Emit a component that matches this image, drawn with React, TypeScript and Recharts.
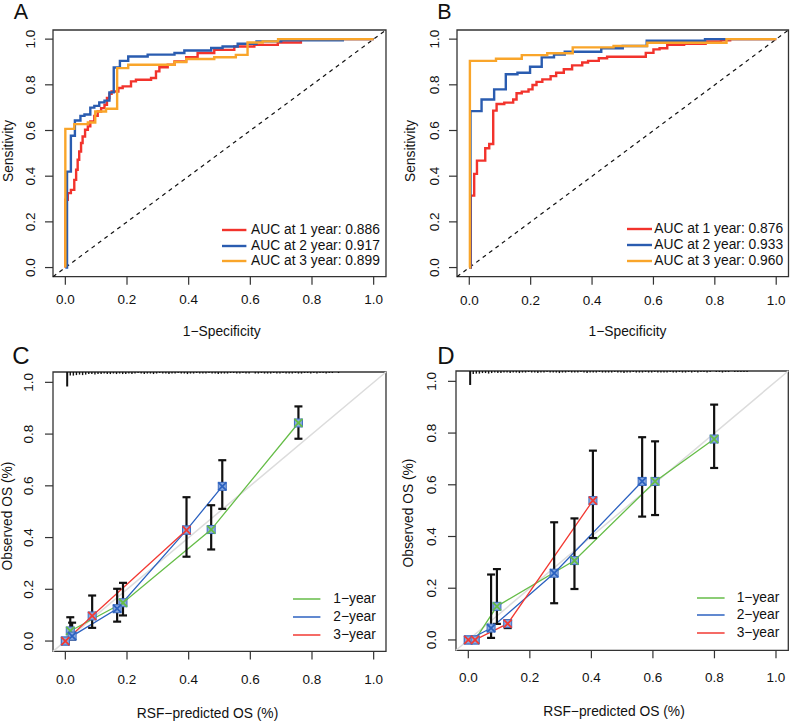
import React from 'react'
import {
  ComposedChart,
  Line,
  Scatter,
  ErrorBar,
  XAxis,
  YAxis,
  ReferenceLine,
  ReferenceArea,
} from 'recharts'

const FONT = '"Liberation Sans", Arial, Helvetica, sans-serif'
const TICKS = [0, 0.2, 0.4, 0.6, 0.8, 1]
const DOMAIN: [number, number] = [-0.04, 1.04]

// ROC curves (1-specificity, sensitivity), training cohort
const rocTrain1y = [[0,0],[0,0.297],[0.008,0.326],[0.018,0.34],[0.029,0.384],[0.035,0.428],[0.04,0.472],[0.045,0.508],[0.051,0.545],[0.056,0.574],[0.064,0.603],[0.073,0.618],[0.081,0.64],[0.094,0.664],[0.105,0.683],[0.116,0.698],[0.127,0.713],[0.135,0.742],[0.143,0.761],[0.15,0.771],[0.172,0.786],[0.186,0.793],[0.213,0.815],[0.229,0.822],[0.278,0.83],[0.294,0.859],[0.305,0.877],[0.332,0.888],[0.354,0.902],[0.392,0.921],[0.429,0.939],[0.483,0.953],[0.548,0.968],[0.613,0.975],[0.689,0.985],[0.764,0.997],[0.82,1],[1,1]]
const rocTrain2y = [[0,0],[0.0055,0.42],[0.018,0.577],[0.031,0.644],[0.049,0.664],[0.062,0.67],[0.081,0.7],[0.094,0.708],[0.11,0.723],[0.127,0.731],[0.143,0.767],[0.157,0.876],[0.177,0.905],[0.204,0.924],[0.267,0.932],[0.354,0.939],[0.386,0.95],[0.473,0.961],[0.51,0.968],[0.559,0.98],[0.62,0.99],[0.7,0.995],[0.9,1],[1,1]]
const rocTrain3y = [[0,0],[0,0.607],[0.029,0.628],[0.073,0.635],[0.097,0.683],[0.132,0.695],[0.168,0.873],[0.204,0.888],[0.354,0.9],[0.392,0.913],[0.483,0.921],[0.553,0.931],[0.591,0.985],[0.64,0.99],[0.69,1],[1,1]]

// ROC curves, validation cohort
const rocValid1y = [[0,0],[0.005,0.315],[0.016,0.41],[0.025,0.468],[0.052,0.522],[0.065,0.541],[0.078,0.687],[0.089,0.716],[0.114,0.722],[0.143,0.736],[0.154,0.763],[0.171,0.77],[0.193,0.78],[0.206,0.799],[0.219,0.813],[0.238,0.824],[0.265,0.838],[0.283,0.853],[0.308,0.868],[0.335,0.885],[0.368,0.898],[0.387,0.905],[0.422,0.916],[0.449,0.923],[0.575,0.94],[0.6,0.955],[0.62,0.96],[0.645,0.975],[0.7,0.98],[0.77,0.99],[0.82,0.995],[0.85,1],[1,1]]
const rocValid2y = [[0,0],[0.004,0.685],[0.04,0.736],[0.081,0.78],[0.119,0.846],[0.157,0.853],[0.198,0.879],[0.236,0.92],[0.276,0.933],[0.311,0.945],[0.43,0.96],[0.5,0.97],[0.578,0.993],[0.768,1],[1,1]]
const rocValid3y = [[0,0],[0.002,0.905],[0.087,0.914],[0.171,0.93],[0.254,0.938],[0.337,0.964],[0.47,0.97],[0.58,0.984],[0.838,1],[1,1]]

const aucTrain = ['0.886', '0.917', '0.899']
const aucValid = ['0.876', '0.933', '0.960']
const rocColors = ['#f2332c', '#2a5cb0', '#f9a52a']
const years = ['1', '2', '3']

// calibration: predicted vs observed OS
const calTrain1y = [[0.016,0.039],[0.187,0.148],[0.473,0.431],[0.756,0.843]]
const calTrain2y = [[0,0],[0.022,0.019],[0.168,0.125],[0.393,0.429],[0.509,0.598]]
const calTrain3y = [[0,0],[0.087,0.097],[0.393,0.429]]
// x, observed, lower, upper
const calTrainCI = [[0.016,0.039,0.012,0.092],[0.022,0.019,0.006,0.071],[0.087,0.097,0.051,0.176],[0.168,0.125,0.075,0.202],[0.187,0.148,0.099,0.225],[0.393,0.429,0.326,0.556],[0.473,0.431,0.354,0.525],[0.509,0.598,0.511,0.699],[0.756,0.843,0.782,0.907]]

const calValid1y = [[0.022,0],[0.093,0.13],[0.345,0.307],[0.607,0.613],[0.799,0.777]]
const calValid2y = [[0,0],[0.074,0.046],[0.279,0.258],[0.565,0.613]]
const calValid3y = [[0,0],[0.022,0],[0.128,0.063],[0.405,0.539]]
const calValidCI = [[0.074,0.046,0.008,0.253],[0.093,0.13,0.062,0.274],[0.128,0.063,0.046,0.075],[0.279,0.258,0.142,0.455],[0.345,0.307,0.197,0.47],[0.405,0.539,0.394,0.732],[0.565,0.613,0.477,0.784],[0.607,0.613,0.483,0.768],[0.799,0.777,0.665,0.91]]

const calColors = ['#66bd48', '#2c62c0', '#f23a33']
const calLabels = ['1\u2212year', '2\u2212year', '3\u2212year']

// spike histogram of predicted risk, 0.01 wide bins from 0
const RUG_UNIT = 0.002
const rugTrain = [28,7,7,6,5,6,5,4,4,5,4,4,3,4,4,3,4,3,4,4,3,4,3,2,3,4,3,3,4,3,2,3,3,4,3,3,2,3,3,4,3,3,2,3,3,3,2,3,3,4,3,3,3,2,2,3,3,2,3,3,0,3,3,2,3,3,3,2,3,3,2,3,3,3,2,3,3,2,2,3,2,3,2,2,3,2,2,0,2]
const rugValid = [27,6,5,5,4,4,5,4,3,4,4,3,3,4,3,3,4,3,3,2,3,3,4,3,3,2,3,3,3,4,3,3,2,3,3,3,2,3,4,3,3,3,2,3,3,3,3,2,3,3,4,3,3,2,3,3,3,2,3,3,2,3,3,3,3,2,3,3,2,3,3,2,3,2,3,2,2,3,2,0,2,2,3,2,2,0,2,2,2,2,2]

const toPts = (a: number[][]) => a.map(([x, y]) => ({ x, y }))
const toCI = (a: number[][]) => a.map(([x, y, lo, hi]) => ({ x, y, err: [y - lo, hi - y] }))

type Box = { l: number; r: number; t: number; b: number }

const PAD_L = 60
const PAD_T = 10
const PAD_R = 10
const PAD_B = 50
const TICK = 8

const xTick = (gap: number) => (p: any) => (
  <text x={p.x} y={p.y + gap} textAnchor="middle" dominantBaseline="central"
    fontSize={13.5} fontFamily={FONT} fill="#111">
    {Number(p.payload.value).toFixed(1)}
  </text>
)

const yTick = (gap: number) => (p: any) => {
  const cx = p.x - gap
  return (
    <text x={cx} y={p.y} transform={`rotate(-90 ${cx} ${p.y})`} textAnchor="middle"
      dominantBaseline="central" fontSize={13.5} fontFamily={FONT} fill="#111">
      {Number(p.payload.value).toFixed(1)}
    </text>
  )
}

function Panel({ box, xGap, yGap, children }: { box: Box; xGap: number; yGap: number; children: React.ReactNode }) {
  return (
    <div style={{ position: 'absolute', left: box.l - PAD_L, top: box.t - PAD_T }}>
      <ComposedChart
        width={box.r - box.l + PAD_L + PAD_R}
        height={box.b - box.t + PAD_T + PAD_B}
        margin={{ top: PAD_T, right: PAD_R, bottom: 0, left: 0 }}
      >
        <XAxis type="number" dataKey="x" domain={DOMAIN} ticks={TICKS} allowDataOverflow interval={0}
          axisLine={false} tickSize={TICK} tickMargin={0} tickLine={{ stroke: '#333', strokeWidth: 1.2 }}
          height={PAD_B} tick={xTick(xGap - TICK)} />
        <YAxis type="number" dataKey="y" domain={DOMAIN} ticks={TICKS} allowDataOverflow interval={0}
          axisLine={false} tickSize={TICK} tickMargin={0} tickLine={{ stroke: '#333', strokeWidth: 1.2 }}
          width={PAD_L} tick={yTick(yGap - TICK)} />
        {children}
        <ReferenceArea x1={-0.04} x2={1.04} y1={-0.04} y2={1.04} fill="none" fillOpacity={0}
          stroke="#333" strokeWidth={1.3} />
      </ComposedChart>
    </div>
  )
}

function Txt({ x, y, size = 13.8, rotate = false, children }: { x: number; y: number; size?: number; rotate?: boolean; children: React.ReactNode }) {
  return (
    <div style={{
      position: 'absolute', left: x, top: y, fontSize: size, fontFamily: FONT, lineHeight: 1,
      whiteSpace: 'nowrap', color: '#111',
      transform: `translate(-50%, -50%)${rotate ? ' rotate(-90deg)' : ''}`,
    }}>{children}</div>
  )
}

function LegendBlock({ x0, x1, tx, ys, colors, labels, lw }: { x0: number; x1: number; tx: number; ys: number[]; colors: string[]; labels: string[]; lw: number }) {
  return (
    <>
      {labels.map((label, i) => (
        <React.Fragment key={i}>
          <svg width={x1 - x0} height={8} style={{ position: 'absolute', left: x0, top: ys[i] - 4, overflow: 'visible' }}>
            <line x1={0} y1={4} x2={x1 - x0} y2={4} stroke={colors[i]} strokeWidth={lw} />
          </svg>
          <div style={{
            position: 'absolute', left: tx, top: ys[i], transform: 'translateY(-50%)', fontSize: 13.8,
            fontFamily: FONT, lineHeight: 1, whiteSpace: 'nowrap', color: '#111',
          }}>{label}</div>
        </React.Fragment>
      ))}
    </>
  )
}

const marker = (color: string) => (p: any) => {
  const { cx, cy } = p
  const s = 4
  return (
    <g>
      <rect x={cx - s} y={cy - s} width={2 * s} height={2 * s} fill="#8aaae0" stroke="#3d6cc0" strokeWidth={1} />
      <path d={`M${cx - s},${cy - s}L${cx + s},${cy + s}M${cx - s},${cy + s}L${cx + s},${cy - s}`}
        stroke={color} strokeWidth={1.8} />
    </g>
  )
}

const noShape = () => <g />

function rocSeries(curves: number[][][]) {
  return curves.map((c, i) => (
    <Line key={'roc' + i} data={toPts(c)} dataKey="y" type="stepAfter" stroke={rocColors[i]}
      strokeWidth={2.4} dot={false} activeDot={false} isAnimationActive={false} />
  ))
}

function calSeries(curves: number[][][], ci: number[][], rug: number[]) {
  return [
    <ReferenceLine key="diag" segment={[{ x: -0.04, y: -0.04 }, { x: 1.04, y: 1.04 }]}
      stroke="#dcdcdc" strokeWidth={1.5} />,
    ...rug.map((n, i) => n > 0 ? (
      <ReferenceLine key={'rug' + i} segment={[{ x: i * 0.01 + 0.006, y: 1.04 }, { x: i * 0.01 + 0.006, y: 1.04 - n * RUG_UNIT }]}
        stroke="#111" strokeWidth={i === 0 ? 2 : 1.4} />
    ) : null),
    ...curves.map((c, i) => (
      <Line key={'cal' + i} data={toPts(c)} dataKey="y" type="linear" stroke={calColors[i]}
        strokeWidth={1.3} dot={false} activeDot={false} isAnimationActive={false} />
    )),
    <Scatter key="ci" data={toCI(ci)} dataKey="y" shape={noShape} isAnimationActive={false}>
      <ErrorBar dataKey="err" direction="y" width={4} stroke="#111" strokeWidth={2.2} isAnimationActive={false} />
    </Scatter>,
    ...curves.map((c, i) => (
      <Scatter key={'pt' + i} data={toPts(c)} dataKey="y" shape={marker(calColors[i])} isAnimationActive={false} />
    )),
  ]
}

const diagDashed = (
  <ReferenceLine segment={[{ x: -0.04, y: -0.04 }, { x: 1.04, y: 1.04 }]}
    stroke="#111" strokeWidth={1.2} strokeDasharray="4 4" />
)

export default function App() {
  const boxA: Box = { l: 52.5, r: 385.5, t: 30, b: 276.7 }
  const boxB: Box = { l: 456.5, r: 788, t: 29.5, b: 276.2 }
  const boxC: Box = { l: 52.5, r: 385.5, t: 372.3, b: 651.7 }
  const boxD: Box = { l: 456, r: 788.3, t: 370.7, b: 650 }

  return (
    <div style={{ position: 'absolute', left: 0, top: 0, width: 791, height: 723, background: '#fff', overflow: 'hidden' }}>
      <Panel box={boxA} xGap={23.3} yGap={22.7}>
        {diagDashed}
        {rocSeries([rocTrain1y, rocTrain2y, rocTrain3y])}
      </Panel>
      <Panel box={boxB} xGap={24} yGap={22.3}>
        {diagDashed}
        {rocSeries([rocValid1y, rocValid2y, rocValid3y])}
      </Panel>
      <Panel box={boxC} xGap={28.3} yGap={24.3}>
        {calSeries([calTrain1y, calTrain2y, calTrain3y], calTrainCI, rugTrain)}
      </Panel>
      <Panel box={boxD} xGap={27.7} yGap={24.3}>
        {calSeries([calValid1y, calValid2y, calValid3y], calValidCI, rugValid)}
      </Panel>

      <Txt x={21} y={12.5} size={21.5}>A</Txt>
      <Txt x={444.5} y={12.5} size={21.5}>B</Txt>
      <Txt x={21} y={356} size={24}>C</Txt>
      <Txt x={446} y={355.5} size={24}>D</Txt>

      <Txt x={9} y={151} rotate>Sensitivity</Txt>
      <Txt x={411} y={151} rotate>Sensitivity</Txt>
      <Txt x={221.7} y={331.5}>1{'\u2212'}Specificity</Txt>
      <Txt x={627.5} y={331.5}>1{'\u2212'}Specificity</Txt>

      <Txt x={8} y={516} rotate>Observed OS (%)</Txt>
      <Txt x={409} y={513} rotate>Observed OS (%)</Txt>
      <Txt x={207.5} y={714}>RSF{'\u2212'}predicted OS (%)</Txt>
      <Txt x={614} y={711.5}>RSF{'\u2212'}predicted OS (%)</Txt>

      <LegendBlock x0={222.3} x1={246.7} tx={251} ys={[230, 245.7, 261]} colors={rocColors} lw={2.4}
        labels={years.map((y, i) => `AUC at ${y} year: ${aucTrain[i]}`)} />
      <LegendBlock x0={626.7} x1={651.7} tx={654.3} ys={[229.3, 245, 260.7]} colors={rocColors} lw={2.4}
        labels={years.map((y, i) => `AUC at ${y} year: ${aucValid[i]}`)} />
      <LegendBlock x0={293.3} x1={320.7} tx={333.3} ys={[599.3, 617.3, 635]} colors={calColors} lw={1.5}
        labels={calLabels} />
      <LegendBlock x0={696.7} x1={724.3} tx={736.7} ys={[597.7, 615.3, 633.3]} colors={calColors} lw={1.5}
        labels={calLabels} />
    </div>
  )
}
